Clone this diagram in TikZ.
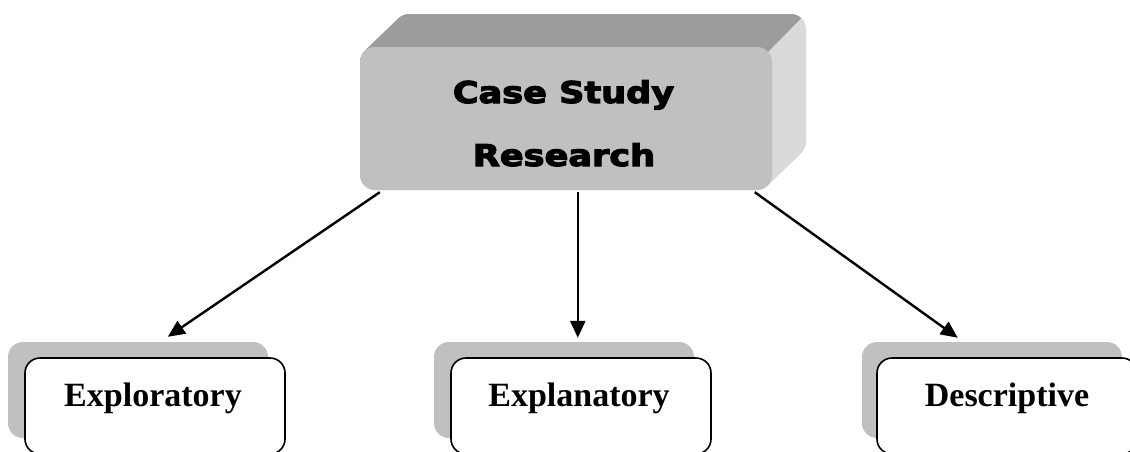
\documentclass[tikz,border=0pt]{standalone}
\usepackage{fontspec}
\setmainfont{Liberation Serif}
\newfontfamily\heavy{DejaVu Sans}[BoldFeatures={FakeBold=3.5}]
\usetikzlibrary{arrows.meta,calc}
\definecolor{facegray}{HTML}{C0C0C0}
\definecolor{topgray}{HTML}{9C9C9C}
\definecolor{sidegray}{HTML}{DADADA}
\begin{document}
\begin{tikzpicture}[x=1pt,y=-1pt,
  frontbox/.style={draw=black,line width=1.6pt,fill=white,rounded corners=15pt,minimum width=260pt,minimum height=96pt,inner sep=0pt},
  shadowbox/.style={fill=facegray,rounded corners=15pt,minimum width=260pt,minimum height=96pt,inner sep=0pt},
  leaflabel/.style={font=\bfseries\fontsize{34}{40}\selectfont,anchor=base,inner sep=0pt},
  mainlabel/.style={font=\heavy\bfseries\fontsize{30}{36}\selectfont,anchor=base,inner sep=0pt},
  arr/.style={line width=2.4pt,-{Triangle[length=17pt,width=15pt]}},
  slab/.style={rounded corners=15pt}
]
\useasboundingbox (0,0) rectangle (1130,451);
% extruded main box
\foreach \i in {0,1,...,34} {
  \fill[sidegray,slab] (360+\i,47-\i*33/34) rectangle ++(412,143);
}
\begin{scope}
  \clip (300,-10) -- (829,-10) -- (767.6,51.4) -- (700,119) -- (300,119) -- cycle;
  \foreach \i in {0,1,...,34} {
    \fill[topgray,slab] (360+\i,47-\i*33/34) rectangle ++(412,143);
  }
\end{scope}
\node[fill=facegray,slab,minimum width=412pt,minimum height=143pt,inner sep=0pt] (main) at (566,118.5) {};
\node[mainlabel] (l1) at (563.5,103) {\scalebox{1.17}[1]{Case Study}};
\node[mainlabel] (l2) at (564,166) {\scalebox{1.17}[1]{Research}};
% leaf boxes
\node[shadowbox] (exs) at (138,390) {};
\node[frontbox] (ex) at (155,406) {};
\node[leaflabel] (exl) at (153,406) {Exploratory};
\node[shadowbox] (xps) at (564,390) {};
\node[frontbox] (xp) at (581,406) {};
\node[leaflabel] (xpl) at (579,406) {Explanatory};
\node[shadowbox] (des) at (992,390) {};
\node[frontbox] (de) at (1007,406) {};
\node[leaflabel] (del) at (1007,406) {Descriptive};
% arrows
\draw[arr] ($(main.south west)+(20,2)$) -- ($(exs.north west)+(160,-5)$);
\draw[arr] ($(main.south west)+(218,2)$) -- ($(xps.north west)+(144,-4)$);
\draw[arr] ($(main.south west)+(395,2)$) -- ($(des.north west)+(96,-4)$);
\end{tikzpicture}
\end{document}
